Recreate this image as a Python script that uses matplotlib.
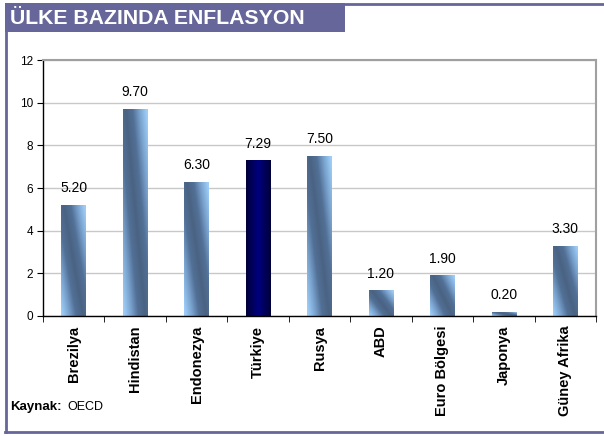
import numpy as np
import matplotlib.pyplot as plt
from matplotlib.colors import LinearSegmentedColormap
from matplotlib.patches import Rectangle
from matplotlib.lines import Line2D

# --- data ---
countries = ['Brezilya', 'Hindistan', 'Endonezya', 'Türkiye', 'Rusya',
             'ABD', 'Euro Bölgesi', 'Japonya', 'Güney Afrika']
inflation = [5.20, 9.70, 6.30, 7.29, 7.50, 1.20, 1.90, 0.20, 3.30]
highlight = 'Türkiye'
yticks = [0, 2, 4, 6, 8, 10, 12]

plt.rcParams['font.family'] = ['Liberation Sans', 'DejaVu Sans']

W, H = 604, 436
fig = plt.figure(figsize=(W / 100, H / 100), dpi=100)
frame_col = '#66669A'

# --- frame and title box ---
fig.add_artist(Rectangle((5 / W, 1 - 32 / H), 340 / W, 29 / H,
                         transform=fig.transFigure, facecolor=frame_col,
                         edgecolor='none'))
fig.add_artist(Line2D([345 / W, 1], [1 - 4 / H] * 2, transform=fig.transFigure,
                      color=frame_col, lw=2))
fig.add_artist(Line2D([6 / W, 6 / W], [1 - 32 / H, 1 - 432 / H],
                      transform=fig.transFigure, color=frame_col, lw=2))
fig.add_artist(Line2D([5 / W, 1], [1 - 432 / H] * 2, transform=fig.transFigure,
                      color=frame_col, lw=2))
fig.text(10 / W, 1 - 18 / H, 'ÜLKE BAZINDA ENFLASYON', color='white',
         fontsize=15.3, fontweight='bold', va='center', ha='left')

# --- axes ---
ax = fig.add_axes([43 / W, 1 - 316 / H, 553 / W, 256 / H])
x = np.arange(len(countries))
ax.set_yticks(yticks)
ax.set_yticklabels([str(t) for t in yticks], fontsize=8.5)
ax.yaxis.grid(True, color='#C8C8C8', lw=1)
ax.set_axisbelow(True)
ax.set_xticks(x)
ax.set_xticklabels(countries, rotation=90, fontsize=10.5, fontweight='bold')
ax.set_xticks(np.arange(-0.5, len(countries) + 0.5, 1), minor=True)
ax.tick_params(axis='x', which='major', length=0, pad=7)
ax.tick_params(axis='x', which='minor', length=4, direction='out', color='black')
ax.tick_params(axis='y', length=4, direction='out', color='black', pad=3)
for s in ['top', 'right']:
    ax.spines[s].set_color('#A0A0A0')
    ax.spines[s].set_linewidth(1.5)
for s in ['left', 'bottom']:
    ax.spines[s].set_color('black')
    ax.spines[s].set_linewidth(1)

# gradient colormaps: 0 = dark band centre, 1 = light edge
shade = LinearSegmentedColormap.from_list(
    'shade', ['#4A6383', '#527096', '#7AA3CF', '#9DCDF8'])
navy = LinearSegmentedColormap.from_list(
    'navy', ['#00003A', '#00007E', '#00003A'])

bw = 0.4
bars = ax.bar(x, inflation, width=bw, color='none', edgecolor='none', zorder=2)
for bar, name, val in zip(bars, countries, inflation):
    x0 = bar.get_x()
    h = bar.get_height()
    u = np.linspace(0, 1, 40)[None, :]
    vn = np.linspace(1, 0, 120)[:, None]
    if name == highlight:
        img = np.repeat(u, 120, axis=0)
        cmap = navy
    else:
        # dark band runs diagonally from top-left to bottom-right
        centre = 0.1 + 0.8 * (1 - vn)
        img = np.clip(np.abs(u - centre) / 0.85, 0, 1)
        cmap = shade
    im = ax.imshow(img, cmap=cmap, vmin=0, vmax=1, aspect='auto',
                   extent=[x0, x0 + bw, 0, h], zorder=2, interpolation='bilinear')
    im.set_clip_path(bar)
    ax.text(bar.get_x() + bw / 2, h + 0.45, f'{val:.2f}', ha='center',
            va='bottom', fontsize=10)
ax.set_xlim(-0.5, len(countries) - 0.5)
ax.set_ylim(0, 12)

# --- source ---
fig.text(10 / W, 1 - 407 / H, 'Kaynak:', fontsize=9.5, fontweight='bold',
         va='center', ha='left')
fig.text(67 / W, 1 - 407 / H, 'OECD', fontsize=9, va='center', ha='left')

fig.savefig('out.png', dpi=100)
